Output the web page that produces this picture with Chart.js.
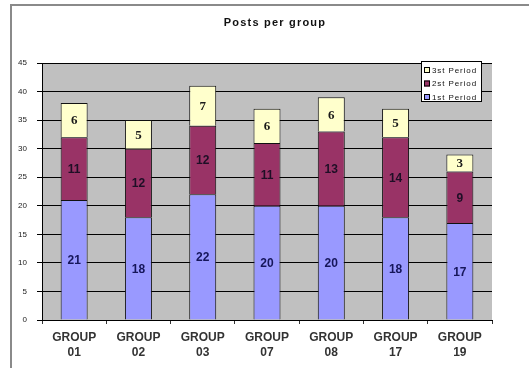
<!DOCTYPE html>
<html>
<head>
<meta charset="utf-8">
<script src="https://cdn.jsdelivr.net/npm/chart.js@4.4.1/dist/chart.umd.min.js"></script>
<style>
html, body { margin:0; padding:0; background:#fff; overflow:hidden; }
#wrap { position:relative; width:529px; height:368px; }
#frame { position:absolute; left:10px; top:4px; width:600px; height:420px; border:2px solid #8a8a8a; box-sizing:border-box; }
#wrap canvas { position:absolute; left:0; top:0; }
</style>
</head>
<body>
<div id="wrap">
  <div id="frame"></div>
  <canvas id="postsChart" width="529" height="368"></canvas>
</div>
<script>
// -------- data --------
const groups = [["GROUP","01"],["GROUP","02"],["GROUP","03"],["GROUP","07"],["GROUP","08"],["GROUP","17"],["GROUP","19"]];
const period1 = [21, 18, 22, 20, 20, 18, 17];
const period2 = [11, 12, 12, 11, 13, 14, 9];
const period3 = [6, 5, 7, 6, 6, 5, 3];
const seriesNames = ["1st Period", "2st Period", "3st Period"];
const yTicks = [0, 5, 10, 15, 20, 25, 30, 35, 40, 45];

const chartTitle = "Posts per group";

// grey plot background
const plotBg = {
    id: "plotBg",
    beforeDraw(chart){
        const a = chart.chartArea;
        const ctx = chart.ctx;
        ctx.save();
        ctx.fillStyle = "#c0c0c0";
        ctx.fillRect(a.left, a.top, a.right - a.left, a.bottom - a.top);
        ctx.restore();
    }
};

// title with spaced letters
const titlePlugin = {
    id: "titlePlugin",
    afterDraw(chart){
        const ctx = chart.ctx;
        ctx.save();
        ctx.font = "bold 11px 'Liberation Sans', Arial, sans-serif";
        ctx.letterSpacing = "1.2px";
        ctx.fillStyle = "#111";
        ctx.textAlign = "center";
        ctx.textBaseline = "middle";
        ctx.fillText(chartTitle, 275, 23);
        ctx.restore();
    }
};

// values in the middle of each segment
const segLabels = {
    id: "segLabels",
    afterDatasetsDraw(chart){
        const ctx = chart.ctx;
        ctx.save();
        ctx.textAlign = "center";
        ctx.textBaseline = "middle";
        chart.data.datasets.forEach(function(ds, i){
            const meta = chart.getDatasetMeta(i);
            meta.data.forEach(function(bar, j){
                const p = bar.getProps(["x", "y", "base"], true);
                ctx.font = ds.labelFont;
                ctx.fillStyle = ds.labelColor;
                ctx.fillText(String(ds.data[j]), p.x, (p.y + p.base) / 2 + 1);
            });
        });
        ctx.restore();
    }
};

// legend box inside the plot, top right
const boxLegend = {
    id: "boxLegend",
    afterDraw(chart){
        const ctx = chart.ctx;
        const a = chart.chartArea;
        const x0 = a.right - 71, y0 = a.top - 2, w = 61, h = 41;
        ctx.save();
        ctx.fillStyle = "#fff";
        ctx.fillRect(x0, y0, w, h);
        ctx.strokeStyle = "#000";
        ctx.lineWidth = 1;
        ctx.strokeRect(x0 + 0.5, y0 + 0.5, w - 1, h - 1);
        ctx.font = "8px 'Liberation Sans', Arial, sans-serif";
        ctx.letterSpacing = "0.9px";
        ctx.textBaseline = "middle";
        const order = [2, 1, 0];
        order.forEach(function(i, row){
            const ds = chart.data.datasets[i];
            const cy = y0 + 9 + row * 13.5;
            ctx.fillStyle = ds.backgroundColor;
            ctx.fillRect(x0 + 3, cy - 3, 6, 6);
            ctx.strokeStyle = "#000";
            ctx.strokeRect(x0 + 3.5, cy - 2.5, 5, 5);
            ctx.fillStyle = "#111";
            ctx.fillText(ds.label, x0 + 11, cy + 0.5);
        });
        ctx.restore();
    }
};

const ctx = document.getElementById("postsChart").getContext("2d");

new Chart(ctx, {
    type: "bar",
    data: {
        labels: groups,
        datasets: [{
            label: seriesNames[0],
            data: period1,
            backgroundColor: "#9999ff",
            labelColor: "#16165a",
            labelFont: "bold 12px 'Liberation Sans', Arial, sans-serif"
        }, {
            label: seriesNames[1],
            data: period2,
            backgroundColor: "#993366",
            labelColor: "#1e0f26",
            labelFont: "bold 12px 'Liberation Sans', Arial, sans-serif"
        }, {
            label: seriesNames[2],
            data: period3,
            backgroundColor: "#ffffcc",
            labelColor: "#1a1a1a",
            labelFont: "bold 13px 'Liberation Serif', 'Times New Roman', serif"
        }]
    },
    options: {
        responsive: false,
        animation: false,
        devicePixelRatio: 1,
        layout: { padding: { top: 63, right: 37, left: 0, bottom: 0 } },
        datasets: {
            bar: {
                barPercentage: 0.42,
                categoryPercentage: 1,
                borderColor: "#111",
                borderWidth: 1,
                borderSkipped: "start"
            }
        },
        plugins: {
            legend: { display: false },
            title: { display: false },
            tooltip: { enabled: false }
        },
        scales: {
            x: {
                stacked: true,
                grid: {
                    drawOnChartArea: false,
                    drawTicks: true,
                    tickLength: 4,
                    color: "#333"
                },
                border: { color: "#000", width: 1 },
                ticks: {
                    padding: 6,
                    color: "#333",
                    maxRotation: 0,
                    font: { family: "'Liberation Sans', Arial, sans-serif", size: 12, weight: "bold", lineHeight: 1.25 }
                },
                afterFit(scale){ scale.height = 48; }
            },
            y: {
                stacked: true,
                min: 0,
                max: 45,
                afterBuildTicks(scale){
                    scale.ticks = yTicks.map(function(v){ return { value: v }; });
                },
                grid: {
                    color: "#000",
                    tickLength: 5,
                    lineWidth: 1
                },
                border: { color: "#000", width: 1 },
                ticks: {
                    padding: 10,
                    color: "#222",
                    font: { family: "'Liberation Sans', Arial, sans-serif", size: 8 }
                },
                afterFit(scale){ scale.width = 42; }
            }
        }
    },
    plugins: [plotBg, segLabels, boxLegend, titlePlugin]
});
</script>
</body>
</html>
